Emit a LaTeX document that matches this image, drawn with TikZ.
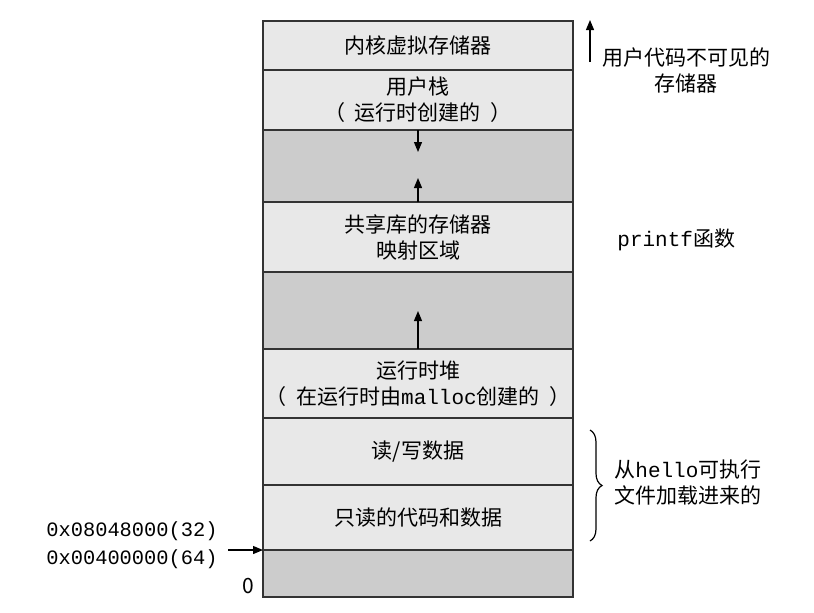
\documentclass[tikz,border=0pt]{standalone}
\usepackage{fontspec}
\setmainfont{Noto Sans CJK SC}
\newfontfamily\mono{Liberation Mono}
\usetikzlibrary{arrows.meta, positioning, calc, decorations.pathreplacing}
\definecolor{segLight}{HTML}{E8E8E8}
\definecolor{segDark}{HTML}{CCCCCC}
\definecolor{segLine}{HTML}{333333}
\newcommand{\lpar}{（\hspace{0.45em}}
\newcommand{\rpar}{\hspace{0.45em}）}

\begin{document}
\begin{tikzpicture}[x=0.5pt, y=-0.5pt,
    seg/.style={rectangle, draw=segLine, line width=0.6pt, fill=segLight,
                minimum width=155pt, inner sep=0pt, outer sep=0pt,
                align=center, font=\fontsize{10.5}{13}\selectfont},
    hole/.style={seg, fill=segDark},
    growArrow/.style={-{Triangle[width=4pt,length=5pt]}, line width=0.6pt, draw=black},
    note/.style={font=\fontsize{10.5}{13}\selectfont, inner sep=0pt},
    addr/.style={font=\mono\fontsize{10.2}{14}\selectfont, inner sep=0pt, align=right},
    brace/.style={decorate, decoration={brace, amplitude=6pt}, line width=0.6pt},
  ]
  \useasboundingbox (0,0) rectangle (814,612);

  % memory segments, top to bottom
  \node[seg, minimum height=24.5pt, anchor=north] (kern) at (418,21) {内核虚拟存储器};
  \node[seg, minimum height=30pt, below=0pt of kern] (stack) {用户栈\\\lpar 运行时创建的\rpar};
  \node[hole, minimum height=36pt, below=0pt of stack] (gapA) {};
  \node[seg, minimum height=35pt, below=0pt of gapA] (shlib) {共享库的存储器\\映射区域};
  \node[hole, minimum height=38.5pt, below=0pt of shlib] (gapB) {};
  \node[seg, minimum height=34.5pt, below=0pt of gapB] (heap) {运行时堆\\\lpar 在运行时由{\mono malloc}创建的\rpar};
  \node[seg, minimum height=33.5pt, below=0pt of heap] (rw) {读/写数据};
  \node[seg, minimum height=32.5pt, below=0pt of rw] (ro) {只读的代码和数据};
  \node[hole, minimum height=23.5pt, below=0pt of ro] (bot) {};

  % growth arrows
  \coordinate (stackTip) at ($(gapA.north)+(0,22)$);
  \coordinate (shlibTip) at ($(gapA.south)+(0,-24)$);
  \coordinate (heapTip) at ($(gapB.south)+(0,-38)$);
  \draw[growArrow] (gapA.north) -- (stackTip);
  \draw[growArrow] (gapA.south) -- (shlibTip);
  \draw[growArrow] (gapB.south) -- (heapTip);

  % kernel note
  \coordinate (kernFrom) at ($(kern.north east)+(17,41)$);
  \coordinate (kernTo) at ($(kern.north east)+(17,-1)$);
  \draw[growArrow] (kernFrom) -- (kernTo);
  \node[note, align=center] (kernNote) at (686,70) {用户代码不可见的\\存储器};

  % shared library note
  \node[note, anchor=west] (libNote) at (617,240) {{\mono printf}函数};

  % loaded from the executable
  \coordinate (braceTop) at ($(rw.north east)+(17,12)$);
  \coordinate (braceBot) at ($(ro.south east)+(17,-9)$);
  \draw[brace] (braceTop) -- (braceBot);
  \node[note, anchor=west, align=left] (loadNote) at (614,483) {从{\mono hello}可执行\\文件加载进来的};

  % start address
  \node[addr] (start) at (132,545) {0x08048000(32)\\0x00400000(64)};
  \coordinate (startFrom) at (228,550);
  \draw[growArrow] (startFrom) -- (bot.north west);
  \node[note] (zero) at (248,586) {0};
\end{tikzpicture}
\end{document}
